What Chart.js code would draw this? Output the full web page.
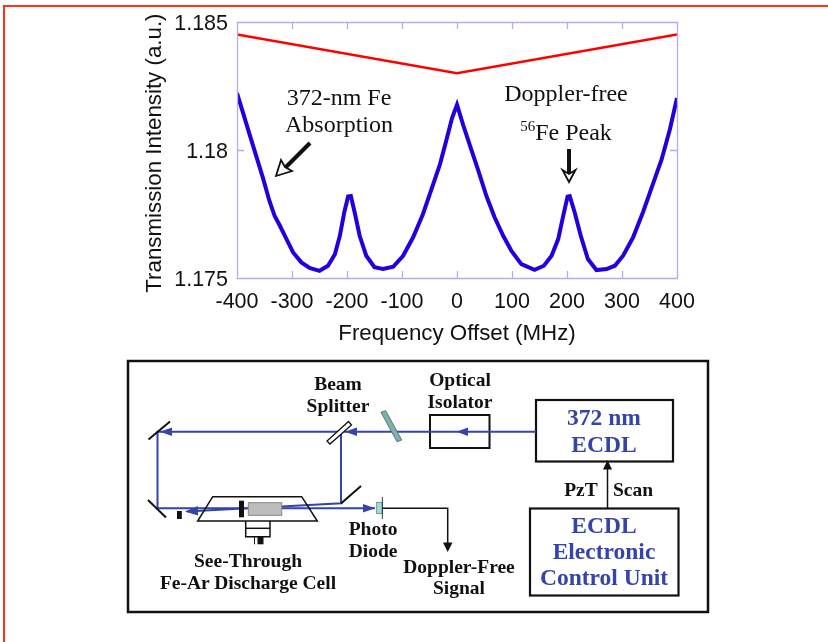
<!DOCTYPE html>
<html>
<head>
<meta charset="utf-8">
<title>Doppler-free Fe spectrum</title>
<script src="https://cdn.jsdelivr.net/npm/chart.js@4"></script>
<style>
  html, body { margin: 0; padding: 0; background: #fff; overflow: hidden; }
  #page { position: relative; width: 828px; height: 642px; }
  #frame { position: absolute; left: 3px; top: 5px; right: 0; bottom: 0; border-left: 2px solid #ff3311; border-top: 2px solid #ff3311; }
  #spectrum { position: absolute; left: 0; top: 0; }
  #overlay { position: absolute; left: 0; top: 0; }
  .note { font-family: "Liberation Serif", serif; font-size: 24px; fill: #111; text-anchor: middle; }
  .lbl { font-family: "Liberation Serif", serif; font-weight: bold; font-size: 19.5px; fill: #111; text-anchor: middle; }
  .blue { font-family: "Liberation Serif", serif; font-weight: bold; font-size: 23.5px; fill: #3344aa; text-anchor: middle; }
  .beam { stroke: #3344aa; stroke-width: 2; fill: none; }
  .ink { stroke: #111; fill: none; }
</style>
</head>
<body>
<div id="page">
  <div id="frame"></div>
  <canvas id="spectrum" width="828" height="350"></canvas>
  <svg id="overlay" width="828" height="642" viewBox="0 0 828 642">
    <!-- annotations on the plot -->
    <text class="note" x="339" y="105">372-nm Fe</text>
    <text class="note" x="339" y="132">Absorption</text>
    <text class="note" x="566" y="101">Doppler-free</text>
    <text class="note" x="566" y="140"><tspan font-size="15" dy="-9">56</tspan><tspan dy="9">Fe Peak</tspan></text>
    <line class="ink" x1="310" y1="143" x2="285" y2="168" stroke-width="4"/>
    <polygon points="276,176 281,160 285,167 292,171" fill="#fff" stroke="#111" stroke-width="1.8"/>
    <line class="ink" x1="569" y1="149" x2="569" y2="175" stroke-width="4"/>
    <polygon points="569,182 562.5,170 569,174 575.5,170" fill="#fff" stroke="#111" stroke-width="1.8"/>

    <!-- setup schematic -->
    <rect class="ink" x="128" y="361" width="580" height="251" stroke-width="2.5"/>
    <rect class="ink" x="430" y="415" width="59.5" height="33" stroke-width="2"/>
    <rect class="ink" x="536" y="400" width="137" height="61.5" stroke-width="2.2"/>
    <rect class="ink" x="530" y="508.5" width="148.5" height="87" stroke-width="2.2"/>

    <polyline class="beam" points="536,431.7 157.5,431.7 157.5,508.3 375,508.3"/>
    <polyline class="beam" points="341,431.7 341,503.3 187,511.5"/>
    <polygon points="160,431.7 172,427.5 172,436" fill="#3344aa"/>
    <polygon points="345,431.7 357,427.5 357,436" fill="#3344aa"/>
    <polygon points="456.5,431.7 468,427.5 468,436" fill="#3344aa"/>
    <polygon points="375,508.3 363,504 363,512.5" fill="#3344aa"/>
    <polygon points="185,511.6 198,506 198,515.5" fill="#3344aa"/>

    <line class="ink" x1="148.5" y1="439.5" x2="170" y2="421.5" stroke-width="2"/>
    <line class="ink" x1="148" y1="500" x2="166" y2="517.5" stroke-width="2"/>
    <line class="ink" x1="341" y1="503.5" x2="361" y2="486" stroke-width="2"/>
    <polygon points="327,441 330,444 351.5,425 348.5,421.5" fill="#fff" stroke="#111" stroke-width="1.3"/>
    <polygon points="381,412.3 385.7,410.7 401.7,440 397,441.7" fill="#7fb0b0" stroke="#557777" stroke-width="1"/>

    <polygon points="197.7,521 212.7,496.7 301.7,496.7 317.3,521" fill="none" stroke="#111" stroke-width="1.5"/>
    <rect x="248.3" y="502.7" width="33.4" height="12.6" fill="#bdbdbd" stroke="#888" stroke-width="1"/>
    <rect x="239" y="500.7" width="5" height="16.6" fill="#111"/>
    <rect x="177" y="511" width="4.8" height="8" fill="#111"/>
    <polyline class="ink" points="245.7,521 245.7,536.7 270,536.7 270,521" stroke-width="1.5"/>
    <line class="ink" x1="245.7" y1="528.3" x2="270" y2="528.3" stroke-width="1.5"/>
    <rect x="257.5" y="536.7" width="6" height="7.6" fill="#111"/>
    <line class="ink" x1="254.5" y1="536.7" x2="254.5" y2="544.3" stroke-width="1"/>

    <rect x="376.7" y="502.3" width="5.6" height="11.4" fill="#99dddd" stroke="#557777" stroke-width="0.7"/>
    <line class="ink" x1="382.3" y1="497" x2="382.3" y2="519" stroke-width="0.8"/>
    <polyline class="ink" points="382.3,508.3 447.7,508.3 447.7,545" stroke-width="1.5"/>
    <polygon points="447.7,552 443,542.5 452.5,542.5" fill="#111"/>
    <line class="ink" x1="607.5" y1="508.5" x2="607.5" y2="468" stroke-width="1.5"/>
    <polygon points="607.5,460 603,469.5 612,469.5" fill="#111"/>

    <text class="lbl" x="338" y="389.5">Beam</text>
    <text class="lbl" x="338" y="411.5">Splitter</text>
    <text class="lbl" x="460" y="385.5">Optical</text>
    <text class="lbl" x="460" y="407.5">Isolator</text>
    <text class="lbl" x="581" y="495.5">PzT</text>
    <text class="lbl" x="633" y="495.5">Scan</text>
    <text class="lbl" x="373" y="534.5">Photo</text>
    <text class="lbl" x="373" y="556.5">Diode</text>
    <text class="lbl" x="248" y="567">See-Through</text>
    <text class="lbl" x="248" y="589">Fe-Ar Discharge Cell</text>
    <text class="lbl" x="459" y="573">Doppler-Free</text>
    <text class="lbl" x="459" y="594">Signal</text>
    <text class="blue" x="604" y="425">372 nm</text>
    <text class="blue" x="604" y="452">ECDL</text>
    <text class="blue" x="604" y="533">ECDL</text>
    <text class="blue" x="604" y="559">Electronic</text>
    <text class="blue" x="604" y="585">Control Unit</text>
  </svg>
</div>

<script>
// values
const offsetMHz = [-400, -389, -377, -365, -353, -341, -331.5, -322, -310, -298, -283, -268, -250, -234.5, -222, -213, -205, -198, -193, -186, -177, -165, -150, -134.5, -116, -98, -80, -62, -46.5, -31, -19, -9, 0, 11, 23, 38, 53.5, 68.5, 84, 99, 117, 141, 158, 172, 184, 193, 201, 205, 214, 225, 238, 253.5, 272, 287, 302, 320, 338, 356, 372, 387, 400];
const transmission = [1.18222, 1.18145, 1.18060, 1.17976, 1.17892, 1.17801, 1.17742, 1.17704, 1.17652, 1.17600, 1.17561, 1.17539, 1.17528, 1.17548, 1.17593, 1.17665, 1.17756, 1.17818, 1.17820, 1.17756, 1.17665, 1.17587, 1.17542, 1.17535, 1.17544, 1.17587, 1.17658, 1.17749, 1.17846, 1.17944, 1.18041, 1.18125, 1.18177, 1.18099, 1.18021, 1.17924, 1.17820, 1.17736, 1.17665, 1.17606, 1.17554, 1.17532, 1.17548, 1.17587, 1.17652, 1.17742, 1.17818, 1.17820, 1.17756, 1.17665, 1.17574, 1.17531, 1.17535, 1.17548, 1.17587, 1.17658, 1.17756, 1.17866, 1.17963, 1.18080, 1.18203];
const refOffsetMHz = [-400, 0, 400];
const refLevel = [1.18451, 1.18300, 1.18451];
const xRange = [-400, 400];
const yRange = [1.175, 1.185];

const axisColor = '#aeaef0';

const toPoints = (xs, ys) => xs.map((x, i) => ({ x, y: ys[i] }));

// inward ticks on all four sides plus the box
const boxPlugin = {
    id: 'boxTicks',
    afterDatasetsDraw(chart) {
        const { ctx, chartArea: a, scales } = chart;
        const len = 7;
        ctx.save();
        ctx.strokeStyle = axisColor;
        ctx.lineWidth = 1.3;
        ctx.beginPath();
        scales.x.ticks.forEach(t => {
            const px = Math.round(scales.x.getPixelForValue(t.value)) + 0.5;
            ctx.moveTo(px, a.top); ctx.lineTo(px, a.top + len);
            ctx.moveTo(px, a.bottom); ctx.lineTo(px, a.bottom - len);
        });
        scales.y.ticks.forEach(t => {
            const py = Math.round(scales.y.getPixelForValue(t.value)) + 0.5;
            ctx.moveTo(a.left, py); ctx.lineTo(a.left + len, py);
            ctx.moveTo(a.right, py); ctx.lineTo(a.right - len, py);
        });
        ctx.rect(a.left + 0.5, a.top + 0.5, a.right - a.left, a.bottom - a.top);
        ctx.stroke();
        ctx.restore();
    }
};

const tickFont = { family: '"Liberation Sans", Arial, sans-serif', size: 21.5 };
const titleFont = { family: '"Liberation Sans", Arial, sans-serif', size: 22.3 };

new Chart(document.getElementById('spectrum').getContext('2d'), {
    type: 'line',
    data: {
        datasets: [{
            label: 'Reference',
            data: toPoints(refOffsetMHz, refLevel),
            borderColor: '#ff0000',
            borderWidth: 2.5,
            pointRadius: 0,
            tension: 0
        }, {
            label: 'Transmission',
            data: toPoints(offsetMHz, transmission),
            borderColor: '#2200dd',
            borderWidth: 4,
            pointRadius: 0,
            tension: 0
        }]
    },
    plugins: [boxPlugin],
    options: {
        responsive: false,
        animation: false,
        layout: { padding: { left: 130, top: 22, right: 151, bottom: 0 } },
        plugins: { legend: { display: false }, tooltip: { enabled: false } },
        scales: {
            x: {
                type: 'linear',
                min: xRange[0],
                max: xRange[1],
                grid: { display: false, drawTicks: false },
                border: { display: false },
                ticks: { stepSize: 100, color: '#111', font: tickFont, padding: 11, maxRotation: 0, autoSkip: false },
                title: { display: true, text: 'Frequency Offset (MHz)', color: '#111', font: titleFont, padding: { top: 0, bottom: 3 } },
                afterFit(scale) {
                    scale.height = 72;
                    scale.paddingLeft = 0; scale.paddingRight = 0;
                }
            },
            y: {
                min: yRange[0],
                max: yRange[1],
                grid: { display: false, drawTicks: false },
                border: { display: false },
                ticks: { stepSize: 0.005, color: '#111', font: tickFont, padding: 9, labelOffset: 2, callback: v => String(+v.toFixed(3)) },
                // trailing space nudges the rotated text down a little
                title: { display: true, text: 'Transmission Intensity (a.u.) ', color: '#111', font: titleFont, padding: { top: 11, bottom: 0 } },
                afterFit(scale) {
                    scale.width = 107;
                    scale.paddingTop = 0; scale.paddingBottom = 0;
                }
            }
        }
    }
});
</script>
</body>
</html>
